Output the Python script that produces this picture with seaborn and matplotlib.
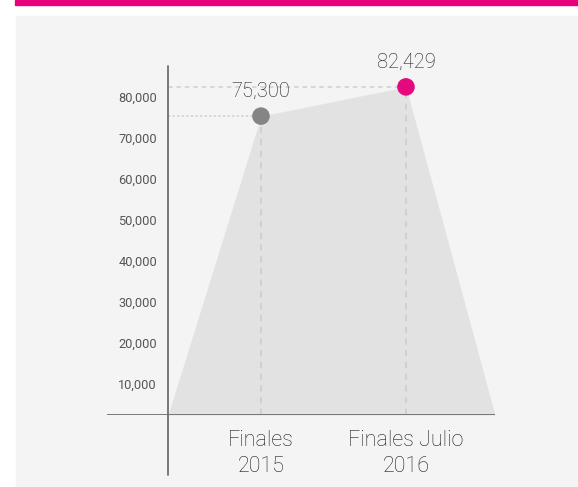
import matplotlib
matplotlib.use("Agg")
import matplotlib.pyplot as plt
import matplotlib.transforms as mtrans
from matplotlib.patches import Rectangle
import seaborn as sns
import pandas as pd

# ---- data ----
categories = ["Finales\n2015", "Finales Julio\n2016"]
values = [75300, 82429]
value_labels = ["75,300", "82,429"]
point_colors = ["#858585", "#E5097F"]
yticks = [10000, 20000, 30000, 40000, 50000, 60000, 70000, 80000]
ytick_labels = ["10,000", "20,000", "30,000", "40,000", "50,000", "60,000", "70,000", "80,000"]

sns.set_theme(style="white")
plt.rcParams["font.family"] = ["Roboto", "DejaVu Sans"]

W, H = 578, 487
fig = plt.figure(figsize=(W / 100, H / 100), dpi=100)
fig.patch.set_facecolor("white")

# background panel and pink band
fig.patches.append(Rectangle((16 / W, 0), 1 - 16 / W, (H - 16) / H,
                             transform=fig.transFigure, color="#F4F4F4", zorder=-10))
fig.patches.append(Rectangle((15 / W, (H - 5) / H), 1 - 15 / W, 5 / H,
                             transform=fig.transFigure, color="#E6007E", zorder=-10))

ax = fig.add_axes([107 / W, (H - 415) / H, (495 - 107) / W, (415 - 60) / H])
ax.set_facecolor("none")
ax.set_zorder(5)

xpos = [1, 2]
x_left, x_right = 0.359, 2.614
ybase = 2400
ax.set_xlim(-0.062, x_right)
ax.set_ylim(ybase, ybase + 355 / 4.1 * 1000)

# filled area
poly_x = [x_left] + xpos + [x_right]
poly_y = [ybase] + values + [ybase]
ax.fill_between(poly_x, poly_y, ybase, color="#E2E2E2", lw=0, zorder=1)

# guide lines
guide_c = "#CFCFCF"
dash_styles = [(0, (1.5, 1.5)), (0, (3, 2.5))]
for x, v, ds in zip(xpos, values, dash_styles):
    ax.plot([x_left, x], [v, v], color=guide_c, lw=1.1, linestyle=ds, zorder=2)
    ax.plot([x, x], [ybase, v], color=guide_c, lw=1.3, linestyle=(0, (3.5, 3)), zorder=2)

# points
df = pd.DataFrame({"x": xpos, "v": values, "c": categories})
sns.scatterplot(data=df, x="x", y="v", hue="c", palette=point_colors, s=160,
                edgecolor="none", legend=False, zorder=4, ax=ax, clip_on=False)

for x, v, lab in zip(xpos, values, value_labels):
    ax.annotate(lab, (x, v), xytext=(0, 18), textcoords="offset points",
                ha="center", va="center", fontsize=14.5, fontweight="light", color="#1E1E1E")

# axes lines
ax.axhline(ybase, color="#6E6E6E", lw=1.3, zorder=3)
trans = mtrans.blended_transform_factory(ax.transData, ax.transAxes)
ax.plot([x_left, x_left], [(415 - 66) / 355, (415 - 475) / 355], color="#6E6E6E",
        lw=1.3, transform=trans, clip_on=False, zorder=3)

for s in ax.spines.values():
    s.set_visible(False)

ax.set_yticks(yticks, ytick_labels)
ax.set_xticks(xpos, categories)
ax.tick_params(axis="y", length=0, pad=-36, labelsize=9.2, labelcolor="#555555")
ax.tick_params(axis="x", length=0, pad=11, labelsize=15.5, labelcolor="#1E1E1E")
for t in ax.get_yticklabels():
    t.set_fontweight("normal")
    t.set_ha("right")
for t in ax.get_xticklabels():
    t.set_fontweight("light")
    t.set_linespacing(1.3)
ax.set_xlabel("")
ax.set_ylabel("")

fig.savefig("out.png", dpi=100)
